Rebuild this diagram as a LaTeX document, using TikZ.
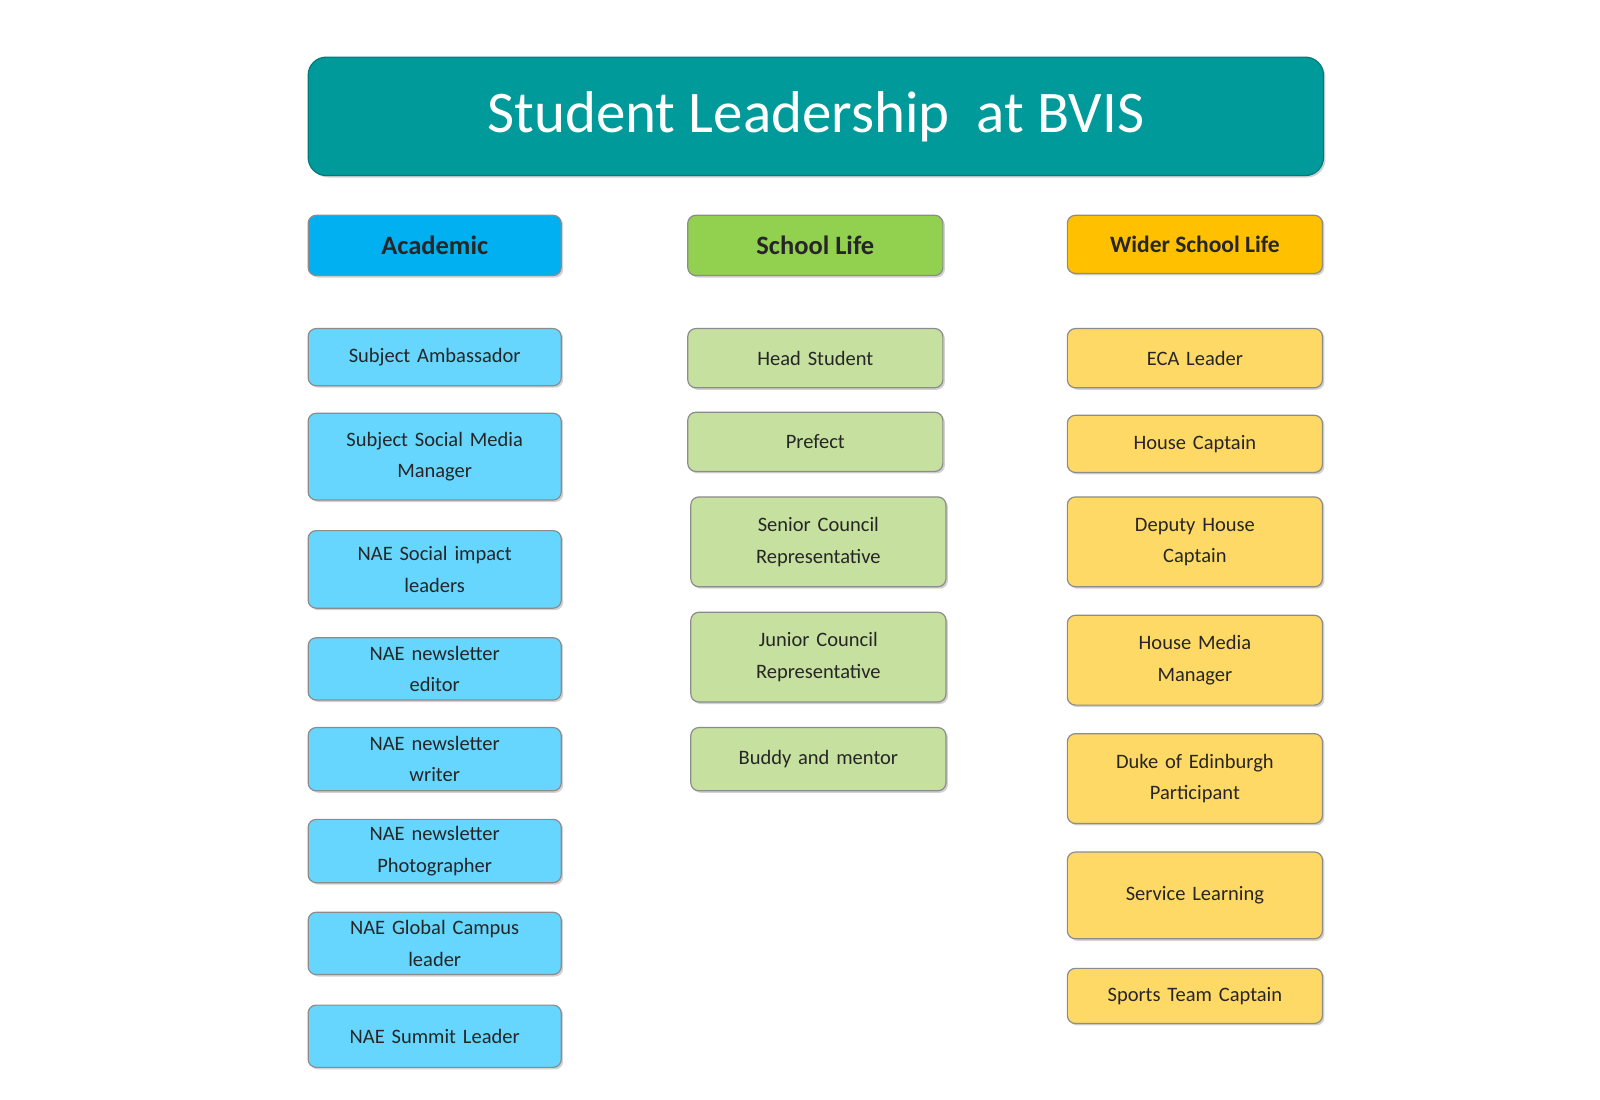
\documentclass[tikz,border=0pt]{standalone}
\usepackage{fontspec}
\setmainfont{Carlito}
\usetikzlibrary{shadows}
\definecolor{teal1}{HTML}{009A9A}
\definecolor{acad}{HTML}{00B0F0}
\definecolor{acadl}{HTML}{66D6FF}
\definecolor{life}{HTML}{92D050}
\definecolor{lifel}{HTML}{C6E0A0}
\definecolor{wide}{HTML}{FFC000}
\definecolor{widel}{HTML}{FFD966}
\newcommand{\bx}[7]{%
 \node[#6, minimum width={(#4-#2)*1.0204pt}, minimum height={(#5-#3)*1.0204pt}] (#1) at ({(#2+#4)/2},{(#3+#5)/2}) {#7};}
\tikzset{
 basebox/.style={rounded corners=8pt, draw=black!45, line width=1.2pt, align=center, text=black!85, inner sep=2pt, drop shadow={shadow xshift=2pt, shadow yshift=-2pt, opacity=0.35}},
 head/.style={basebox, font=\fontsize{26.5}{30}\selectfont\bfseries},
 itemA/.style={basebox, fill=acadl, font=\fontsize{20.5}{31.5}\selectfont, text width=225pt},
 itemL/.style={basebox, fill=lifel, font=\fontsize{20.5}{31.5}\selectfont, text width=225pt},
 itemW/.style={basebox, fill=widel, font=\fontsize{20.5}{31.5}\selectfont, text width=225pt},
}
\begin{document}
\begin{tikzpicture}[x=1.0204pt,y=-1.0204pt]
\useasboundingbox (0,0) rectangle (1568,1078);
\fill[white] (0,0) rectangle (1568,1078);
\bx{title}{302}{56}{1297}{172}{basebox, fill=teal1, draw=teal1!80!black, rounded corners=18pt, text=white, font=\fontsize{59}{64}\selectfont}{Student Leadership\ \ at BVIS}
\bx{hA}{302}{211}{550}{270}{head, fill=acad}{Academic}
\bx{hL}{674}{211}{924}{270}{head, fill=life}{School Life}
\bx{hW}{1046}{211}{1296}{268}{head, fill=wide, font=\fontsize{23.5}{28}\selectfont\bfseries}{Wider School Life}
\bx{a1}{302}{322}{550}{378}{itemA}{Subject Ambassador}
\bx{a2}{302}{405}{550}{490}{itemA}{Subject Social Media\\Manager}
\bx{a3}{302}{520}{550}{596}{itemA}{NAE Social impact\\leaders}
\bx{a4}{302}{625}{550}{686}{itemA}{NAE newsletter\\editor}
\bx{a5}{302}{713}{550}{775}{itemA}{NAE newsletter\\writer}
\bx{a6}{302}{803}{550}{865}{itemA}{NAE newsletter\\Photographer}
\bx{a7}{302}{894}{550}{955}{itemA}{NAE Global Campus\\leader}
\bx{a8}{302}{985}{550}{1046}{itemA}{NAE Summit Leader}
\bx{l1}{674}{322}{924}{380}{itemL}{Head Student}
\bx{l2}{674}{404}{924}{462}{itemL}{Prefect}
\bx{l3}{677}{487}{927}{575}{itemL}{Senior Council\\Representative}
\bx{l4}{677}{600}{927}{688}{itemL}{Junior Council\\Representative}
\bx{l5}{677}{713}{927}{775}{itemL}{Buddy and mentor}
\bx{w1}{1046}{322}{1296}{380}{itemW}{ECA Leader}
\bx{w2}{1046}{407}{1296}{463}{itemW}{House Captain}
\bx{w3}{1046}{487}{1296}{575}{itemW}{Deputy House\\Captain}
\bx{w4}{1046}{603}{1296}{691}{itemW}{House Media\\Manager}
\bx{w5}{1046}{719}{1296}{807}{itemW}{Duke of Edinburgh\\Participant}
\bx{w6}{1046}{835}{1296}{920}{itemW}{Service Learning}
\bx{w7}{1046}{949}{1296}{1003}{itemW}{Sports Team Captain}
\end{tikzpicture}
\end{document}
